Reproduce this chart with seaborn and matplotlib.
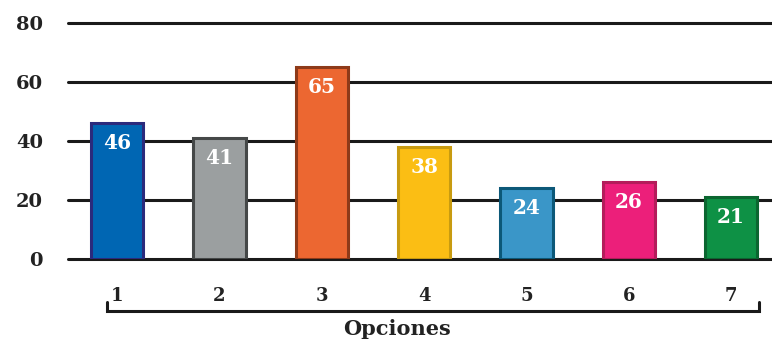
import pandas as pd
import seaborn as sns
import matplotlib.pyplot as plt

# datos del gráfico
opciones = ["1", "2", "3", "4", "5", "6", "7"]
valores = [46, 41, 65, 38, 24, 26, 21]
relleno = ["#0066B3", "#9B9FA0", "#EC6731", "#FBBE14", "#3A96C8", "#EC1F7A", "#0E9145"]
bordes = ["#2B2A7C", "#454848", "#8E3A19", "#C89B10", "#0C5878", "#B41C5B", "#0B6630"]
y_ticks = [0, 20, 40, 60, 80]

df = pd.DataFrame({"opcion": opciones, "valor": valores})

sns.set_style("white")
plt.rcParams['font.family'] = ['DejaVu Serif']

fig = plt.figure(figsize=(7.72, 3.45), dpi=100)
ax = fig.add_axes([68 / 772, (345 - 259) / 345, 1 - 68 / 772, (259 - 23) / 345])

p = sns.barplot(data=df, x="opcion", y="valor", hue="opcion", palette=relleno,
                saturation=1, legend=False, width=0.51, ax=ax, zorder=3)
for barra, borde in zip(p.patches, bordes):
    barra.set_edgecolor(borde)
    barra.set_linewidth(2.2)

# etiquetas blancas dentro de las barras
for barra, v in zip(p.patches, valores):
    ax.annotate(str(v), (barra.get_x() + barra.get_width() / 2, v),
                xytext=(0, -14.5), textcoords="offset points",
                ha="center", va="center", color="white",
                fontsize=14.5, fontweight="bold", zorder=4)

ax.set_ylim(0, 80)
ax.set_xlim(-0.48, 6.40)
ax.set_yticks(y_ticks)
ax.yaxis.grid(True, color="#1a1a1a", linewidth=2.2)
for linea in ax.get_ygridlines():
    linea.set_clip_on(False)
ax.set_axisbelow(True)
sns.despine(ax=ax, left=True, bottom=True, top=True, right=True)
ax.tick_params(axis="y", length=0, pad=18, labelsize=14, labelcolor="#222222")
ax.tick_params(axis="x", length=0, pad=20, labelsize=13, labelcolor="#222222")
for t in ax.get_yticklabels() + ax.get_xticklabels():
    t.set_fontweight("bold")
ax.set_xlabel("")
ax.set_ylabel("")

# corchete bajo las opciones
x0, x1 = -0.1, 6.27
yb = -17.5
ax.plot([x0, x0, x1, x1], [yb + 3, yb, yb, yb + 3], color="#1a1a1a",
        linewidth=2.2, clip_on=False, solid_joinstyle="miter")
ax.text(2.74, yb - 6.2, "Opciones", ha="center", va="center",
        fontsize=15, fontweight="bold", color="#222222")

plt.savefig("out.png", dpi=100)
